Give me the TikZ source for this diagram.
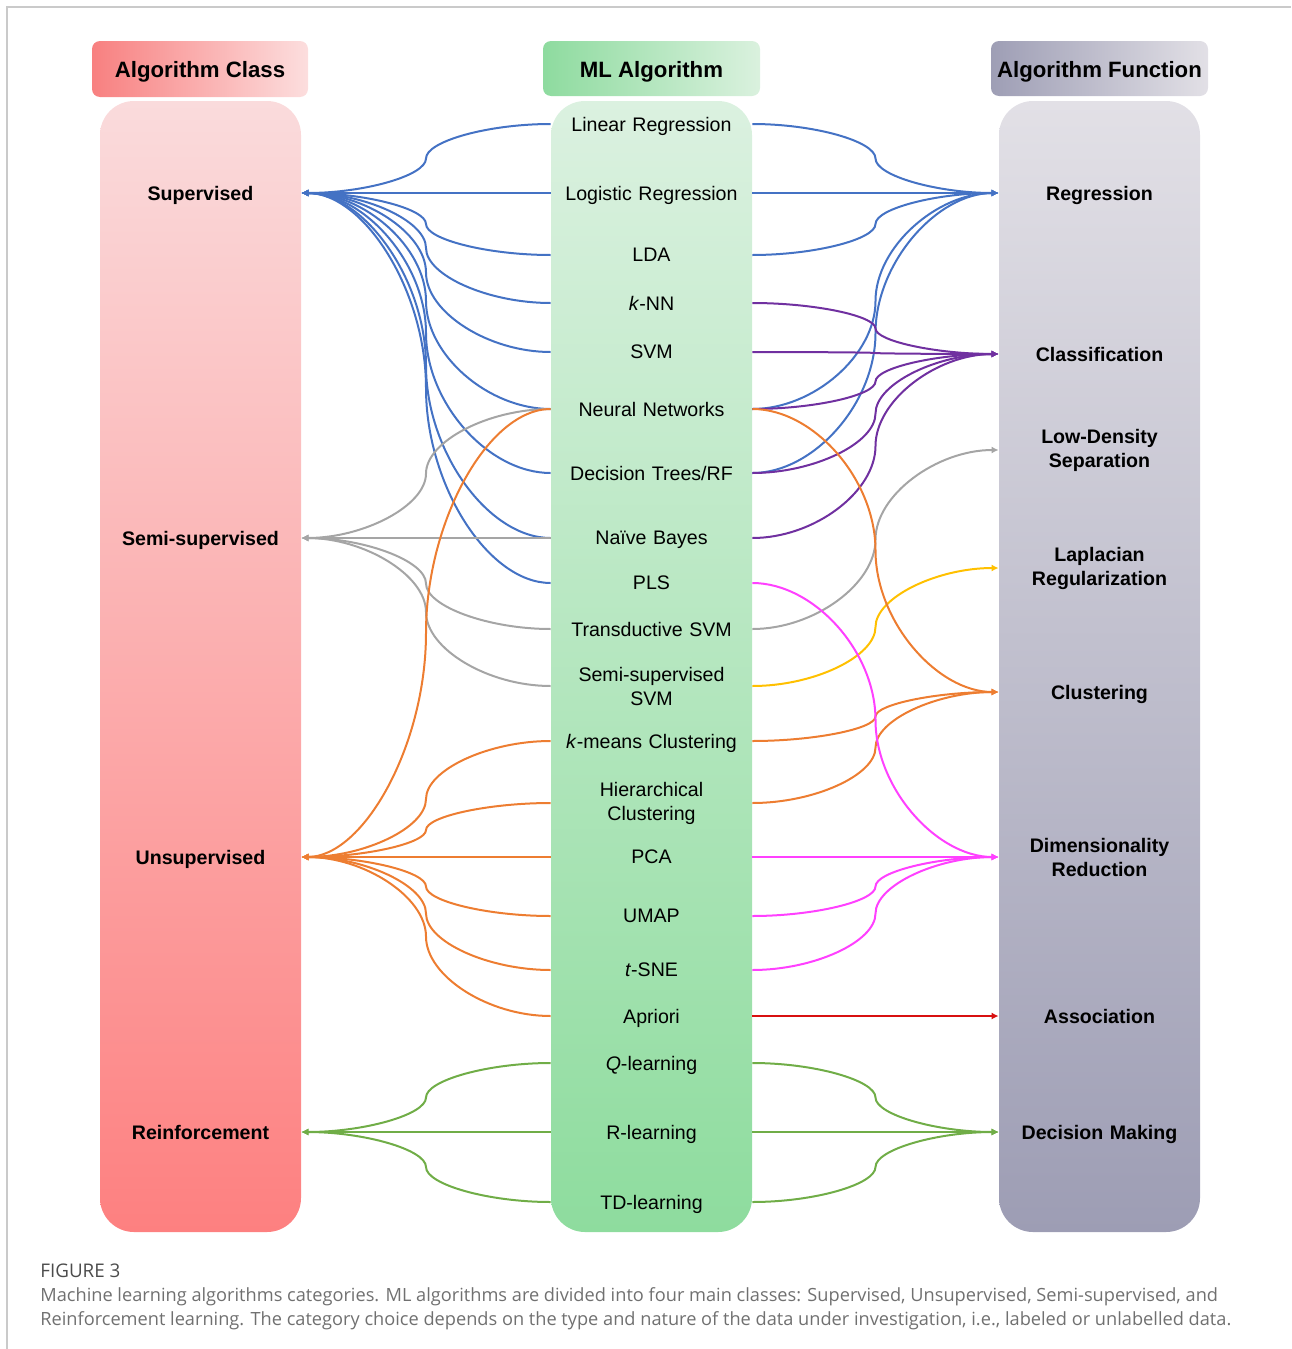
\documentclass[tikz,border=0pt]{standalone}
\usepackage{fontspec}
\setmainfont{Liberation Sans}
\newfontfamily\capfont{Open Sans}
\usetikzlibrary{arrows.meta,calc}

\definecolor{supblue}{HTML}{4472C4}
\definecolor{semigray}{HTML}{A5A5A5}
\definecolor{unsorange}{HTML}{ED7D31}
\definecolor{reigreen}{HTML}{70AD47}
\definecolor{clspurple}{HTML}{7030A0}
\definecolor{lapyellow}{HTML}{FFC000}
\definecolor{dimmagenta}{HTML}{FF40FF}
\definecolor{ascred}{HTML}{D81010}
\definecolor{framegray}{HTML}{CACACA}
\definecolor{capgray}{HTML}{707070}

\tikzset{
    conn/.style={line width=1pt, -{Latex[length=3.5pt,width=3.5pt]},
        to path={let \p1=(\tikztostart), \p2=(\tikztotarget) in
            .. controls ({0.75*\x1+0.25*\x2},\y1) and ({0.5*\x1+0.5*\x2},{0.75*\y1+0.25*\y2})
            .. ({0.5*\x1+0.5*\x2},{0.5*\y1+0.5*\y2})
            .. controls ({0.5*\x1+0.5*\x2},{0.25*\y1+0.75*\y2}) and ({0.25*\x1+0.75*\x2},\y2)
            .. (\tikztotarget) \tikztonodes}},
    algotwo/.style={text width=100.5pt, align=center, inner xsep=0pt, inner ysep=1pt,
        font=\fontsize{9.8}{12}\selectfont},
    algo/.style={algotwo, text depth=0pt},
    klasstwo/.style={algotwo, font=\fontsize{9.8}{12}\selectfont\bfseries},
    klass/.style={klasstwo, text depth=0pt},
    head/.style={text depth=0pt, font=\fontsize{11.1}{13}\selectfont\bfseries}
}

\begin{document}
\begin{tikzpicture}[%
        x = 0.5pt, y = -0.5pt
    ]
      \useasboundingbox (0,0) rectangle (1291,1349);
      \draw[framegray, line width=0.75pt] (7,1349) -- (7,7) -- (1291,7);

      % headers
      \shade[rounded corners=4pt, left color={rgb,255:red,248;green,128;blue,128}, right color={rgb,255:red,252;green,222;blue,222}] (92,41) rectangle (308,97);
      \shade[rounded corners=4pt, left color={rgb,255:red,142;green,219;blue,159}, right color={rgb,255:red,218;green,241;blue,222}] (543,41) rectangle (760,96);
      \shade[rounded corners=4pt, left color={rgb,255:red,158;green,158;blue,181}, right color={rgb,255:red,226;green,224;blue,230}] (991,41) rectangle (1208,96);
      \node[head] (hclass) at (200,69) {Algorithm Class};
      \node[head] (halgo) at (651.5,69) {ML Algorithm};
      \node[head] (hfunc) at (1099.5,69) {Algorithm Function};

      % columns
      \shade[rounded corners=17pt, top color={rgb,255:red,250;green,219;blue,220}, bottom color={rgb,255:red,253;green,128;blue,128}] (100,101) rectangle (301,1232);
      \shade[rounded corners=17pt, top color={rgb,255:red,219;green,241;blue,224}, bottom color={rgb,255:red,142;green,220;blue,158}] (551,101) rectangle (752,1232);
      \shade[rounded corners=17pt, top color={rgb,255:red,226;green,224;blue,230}, bottom color={rgb,255:red,157;green,157;blue,180}] (999,101) rectangle (1200,1232);

      % classes
      \node[klass] (sup) at (200.5,193) {Supervised};
      \node[klass] (semi) at (200.5,538) {Semi-supervised};
      \node[klass] (unsup) at (200.5,857) {Unsupervised};
      \node[klass] (reinf) at (200.5,1132) {Reinforcement};

      % algorithms
      \node[algo] (linreg) at (651.5,124) {Linear Regression};
      \node[algo] (logreg) at (651.5,193) {Logistic Regression};
      \node[algo] (lda) at (651.5,255) {LDA};
      \node[algo] (knn) at (651.5,303) {\textit{k}-NN};
      \node[algo] (svm) at (651.5,352) {SVM};
      \node[algo] (nn) at (651.5,409) {Neural Networks};
      \node[algo] (dtrf) at (651.5,473) {Decision Trees/RF};
      \node[algo] (nb) at (651.5,538) {Naïve Bayes};
      \node[algo] (pls) at (651.5,583) {PLS};
      \node[algo] (tsvm) at (651.5,629) {Transductive SVM};
      \node[algotwo] (sssvm) at (651.5,686) {Semi-supervised\\SVM};
      \node[algo] (kmeans) at (651.5,741) {\textit{k}-means Clustering};
      \node[algotwo] (hclust) at (651.5,803) {Hierarchical\\Clustering};
      \node[algo] (pca) at (651.5,857) {PCA};
      \node[algo] (umap) at (651.5,916) {UMAP};
      \node[algo] (tsne) at (651.5,970) {\textit{t}-SNE};
      \node[algo] (apriori) at (651.5,1016) {Apriori};
      \node[algo] (qlearn) at (651.5,1063) {\textit{Q}-learning};
      \node[algo] (rlearn) at (651.5,1132) {R-learning};
      \node[algo] (tdlearn) at (651.5,1202) {TD-learning};

      % functions
      \node[klass] (regr) at (1099.5,193) {Regression};
      \node[klass] (classif) at (1099.5,354) {Classification};
      \node[klasstwo] (lowden) at (1099.5,450) {Low-Density\\Separation};
      \node[klasstwo] (laplace) at (1099.5,568) {Laplacian\\Regularization};
      \node[klass] (clust) at (1099.5,692) {Clustering};
      \node[klasstwo] (dimred) at (1099.5,857) {Dimensionality\\Reduction};
      \node[klass] (assoc) at (1099.5,1016) {Association};
      \node[klass] (decmak) at (1099.5,1132) {Decision Making};

      % algorithm -> class
      \draw[conn, supblue] (linreg.west) to (sup.east);
      \draw[conn, supblue] (logreg.west) to (sup.east);
      \draw[conn, supblue] (lda.west) to (sup.east);
      \draw[conn, supblue] (knn.west) to (sup.east);
      \draw[conn, supblue] (svm.west) to (sup.east);
      \draw[conn, supblue] (nn.west) to (sup.east);
      \draw[conn, supblue] (dtrf.west) to (sup.east);
      \draw[conn, supblue] (nb.west) to (sup.east);
      \draw[conn, supblue] (pls.west) to (sup.east);
      \draw[conn, semigray] (nn.west) to (semi.east);
      \draw[conn, semigray] (nb.west) to (semi.east);
      \draw[conn, semigray] (tsvm.west) to (semi.east);
      \draw[conn, semigray] (sssvm.west) to (semi.east);
      \draw[conn, unsorange] (nn.west) to (unsup.east);
      \draw[conn, unsorange] (kmeans.west) to (unsup.east);
      \draw[conn, unsorange] (hclust.west) to (unsup.east);
      \draw[conn, unsorange] (pca.west) to (unsup.east);
      \draw[conn, unsorange] (umap.west) to (unsup.east);
      \draw[conn, unsorange] (tsne.west) to (unsup.east);
      \draw[conn, unsorange] (apriori.west) to (unsup.east);
      \draw[conn, reigreen] (qlearn.west) to (reinf.east);
      \draw[conn, reigreen] (rlearn.west) to (reinf.east);
      \draw[conn, reigreen] (tdlearn.west) to (reinf.east);

      % algorithm -> function
      \draw[conn, supblue] (linreg.east) to (regr.west);
      \draw[conn, supblue] (logreg.east) to (regr.west);
      \draw[conn, supblue] (lda.east) to (regr.west);
      \draw[conn, supblue] (nn.east) to (regr.west);
      \draw[conn, supblue] (dtrf.east) to (regr.west);
      \draw[conn, clspurple] (knn.east) to (classif.west);
      \draw[conn, clspurple] (svm.east) to (classif.west);
      \draw[conn, clspurple] (nn.east) to (classif.west);
      \draw[conn, clspurple] (dtrf.east) to (classif.west);
      \draw[conn, clspurple] (nb.east) to (classif.west);
      \draw[conn, semigray] (tsvm.east) to (lowden.west);
      \draw[conn, lapyellow] (sssvm.east) to (laplace.west);
      \draw[conn, unsorange] (nn.east) to (clust.west);
      \draw[conn, unsorange] (kmeans.east) to (clust.west);
      \draw[conn, unsorange] (hclust.east) to (clust.west);
      \draw[conn, dimmagenta] (pls.east) to (dimred.west);
      \draw[conn, dimmagenta] (pca.east) to (dimred.west);
      \draw[conn, dimmagenta] (umap.east) to (dimred.west);
      \draw[conn, dimmagenta] (tsne.east) to (dimred.west);
      \draw[conn, ascred] (apriori.east) to (assoc.west);
      \draw[conn, reigreen] (qlearn.east) to (decmak.west);
      \draw[conn, reigreen] (rlearn.east) to (decmak.west);
      \draw[conn, reigreen] (tdlearn.east) to (decmak.west);

      % caption
      \node[anchor=base west, inner sep=0pt, text=black!70, font=\capfont\fontsize{9.4}{11}\selectfont] (figno) at (40,1277) {FIGURE 3};
      \node[anchor=base west, inner sep=0pt, text=capgray, font=\capfont\fontsize{9.1}{12}\selectfont] (capa) at (40,1301) {Machine learning algorithms categories. ML algorithms are divided into four main classes: Supervised, Unsupervised, Semi-supervised, and};
      \node[anchor=base west, inner sep=0pt, text=capgray, font=\capfont\fontsize{9.1}{12}\selectfont] (capb) at (40,1325) {Reinforcement learning. The category choice depends on the type and nature of the data under investigation, i.e., labeled or unlabelled data.};
    \end{tikzpicture}
\end{document}
